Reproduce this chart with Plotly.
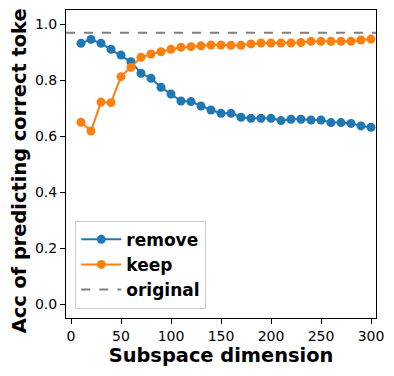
import plotly.graph_objects as go

dims = list(range(10, 301, 10))
remove = [0.931, 0.945, 0.931, 0.910, 0.889, 0.865, 0.824, 0.806, 0.774, 0.750,
          0.725, 0.723, 0.707, 0.693, 0.681, 0.681, 0.667, 0.663, 0.663, 0.663,
          0.655, 0.660, 0.660, 0.657, 0.657, 0.648, 0.648, 0.645, 0.636, 0.631]
keep = [0.649, 0.618, 0.721, 0.719, 0.812, 0.845, 0.881, 0.893, 0.901, 0.910,
        0.917, 0.919, 0.922, 0.925, 0.925, 0.924, 0.924, 0.929, 0.932, 0.932,
        0.932, 0.932, 0.934, 0.938, 0.938, 0.938, 0.938, 0.938, 0.943, 0.946]
original = 0.969
x_range = [-5, 305]
x_ticks = [0, 50, 100, 150, 200, 250, 300]
y_ticks = [0.0, 0.2, 0.4, 0.6, 0.8, 1.0]

fig = go.Figure()
fig.add_trace(go.Scatter(x=dims, y=remove, mode="lines+markers", name="remove",
                         line=dict(color="#1f77b4", width=2),
                         marker=dict(size=9, color="#1f77b4")))
fig.add_trace(go.Scatter(x=dims, y=keep, mode="lines+markers", name="keep",
                         line=dict(color="#ff7f0e", width=2),
                         marker=dict(size=9, color="#ff7f0e")))
fig.add_trace(go.Scatter(x=x_range, y=[original, original], mode="lines", name="original",
                         line=dict(color="gray", width=2, dash="dash")))

axis_common = dict(showgrid=False, zeroline=False, showline=True, linecolor="black",
                   linewidth=1, mirror=True, ticks="outside", ticklen=5, tickwidth=1,
                   tickcolor="black", tickfont=dict(size=14, color="black"),
                   automargin=False)
fig.update_xaxes(range=x_range, tickvals=x_ticks,
                 title=dict(text="<b>Subspace dimension</b>", font=dict(size=19.4, color="black"), standoff=4),
                 **axis_common)
fig.update_yaxes(range=[-0.05, 1.05], tickvals=y_ticks, ticktext=[f"{v:.1f}" for v in y_ticks],
                 title=dict(text="<b>Acc of predicting correct token</b>", font=dict(size=19.4, color="black"), standoff=6),
                 **axis_common)
fig.update_layout(
    width=386, height=368,
    margin=dict(l=58, r=18, t=2, b=58),
    plot_bgcolor="white", paper_bgcolor="white",
    font=dict(family="DejaVu Sans", color="black"),
    legend=dict(x=0.03, y=0.03, xanchor="left", yanchor="bottom",
                bordercolor="#cccccc", borderwidth=1, bgcolor="rgba(255,255,255,0.8)",
                font=dict(size=17, color="black", weight="bold"), tracegroupgap=0,
                itemwidth=40),
)
fig.write_html("out.html")
